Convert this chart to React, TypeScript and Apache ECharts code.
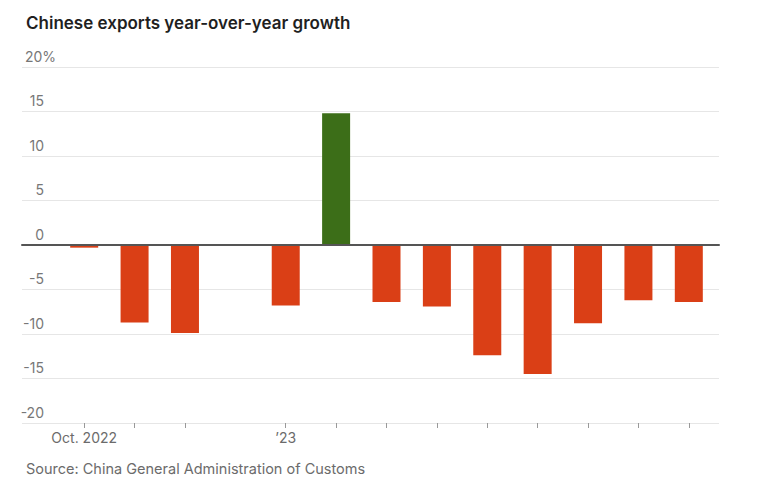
import React, { useEffect, useRef } from "react";
import * as echarts from "echarts";

const months = ["Oct 2022", "Nov 2022", "Dec 2022", "Jan 2023", "Feb 2023", "Mar 2023", "Apr 2023", "May 2023", "Jun 2023", "Jul 2023", "Aug 2023", "Sep 2023", "Oct 2023"];
const growth: (number | null)[] = [-0.3, -8.7, -9.9, null, -6.8, 14.8, -6.4, -6.9, -12.4, -14.5, -8.8, -6.2, -6.4];
const tickLabels = ["Oct. 2022", "", "", "", "\u201923", "", "", "", "", "", "", "", ""];
const yTicks = { min: -20, max: 20, interval: 5 };
const titleText = "Chinese exports year-over-year growth";
const sourceText = "Source: China General Administration of Customs";

const RED = "#DA3F16";
const GREEN = "#3C6E18";
const FONT = "Inter, 'Open Sans', sans-serif";

export default function App() {
  const ref = useRef<HTMLDivElement>(null);
  useEffect(() => {
    document.body.style.margin = "0";
    const chart = echarts.init(ref.current!, null, { renderer: "svg" });
    chart.setOption({
      animation: false,
      backgroundColor: "#fff",
      title: [
        {
          text: titleText,
          left: 21,
          top: 9,
          textStyle: { fontFamily: FONT, fontSize: 17, fontWeight: 600, color: "#1f1f1f" },
        },
        {
          text: sourceText,
          left: 21,
          top: 456,
          textStyle: { fontFamily: FONT, fontSize: 14.5, fontWeight: 400, color: "#6b6b6b" },
        },
      ],
      grid: [
        { left: 22, right: 41, top: 67, bottom: 63 },
        { left: 59, right: 46, top: 67, bottom: 63 },
      ],
      xAxis: [
        {
          gridIndex: 0,
          type: "category",
          data: [""],
          axisLine: { show: true, onZero: true, lineStyle: { color: "#555", width: 2 } },
          axisTick: { show: false },
          axisLabel: { show: false },
          splitLine: { show: false },
          z: 5,
        },
        {
          gridIndex: 1,
          type: "category",
          data: months,
          axisLine: { show: false, onZero: false },
          axisTick: {
            show: true,
            alignWithLabel: true,
            length: 5,
            interval: (i: number) => i !== 3,
            lineStyle: { color: "#999", width: 1 },
          },
          axisLabel: {
            interval: 0,
            margin: 7,
            fontFamily: FONT,
            fontSize: 14,
            color: "#6b6b6b",
            formatter: (_v: string, i: number) => tickLabels[i],
          },
        },
      ],
      yAxis: [
        {
          gridIndex: 0,
          type: "value",
          min: yTicks.min,
          max: yTicks.max,
          interval: yTicks.interval,
          axisLine: { show: false },
          axisTick: { show: false },
          splitLine: { show: true, lineStyle: { color: "#e6e6e6", width: 1 } },
          axisLabel: {
            inside: true,
            margin: 34,
            align: "right",
            verticalAlign: "bottom",
            padding: [0, 0, 4, 0],
            fontFamily: FONT,
            fontSize: 14,
            color: "#777",
            formatter: (v: number) => (v === yTicks.max ? "{a|" + v + "}{b|%}" : "{a|" + v + "}{c| }"),
            rich: {
              a: { fontFamily: FONT, fontSize: 14, color: "#777" },
              b: { fontFamily: FONT, fontSize: 14, color: "#777" },
              c: { fontFamily: FONT, fontSize: 14, color: "#777", width: 12 },
            },
          },
        },
        {
          gridIndex: 1,
          type: "value",
          min: yTicks.min,
          max: yTicks.max,
          interval: yTicks.interval,
          show: false,
          splitLine: { show: false },
        },
      ],
      series: [
        {
          type: "bar",
          xAxisIndex: 1,
          yAxisIndex: 1,
          data: growth,
          barWidth: 28,
          itemStyle: {
            color: (p: any) => (p.value >= 0 ? GREEN : RED),
          },
          z: 2,
        },
      ],
    });
    return () => chart.dispose();
  }, []);
  return <div ref={ref} style={{ width: 760, height: 486 }} />;
}
